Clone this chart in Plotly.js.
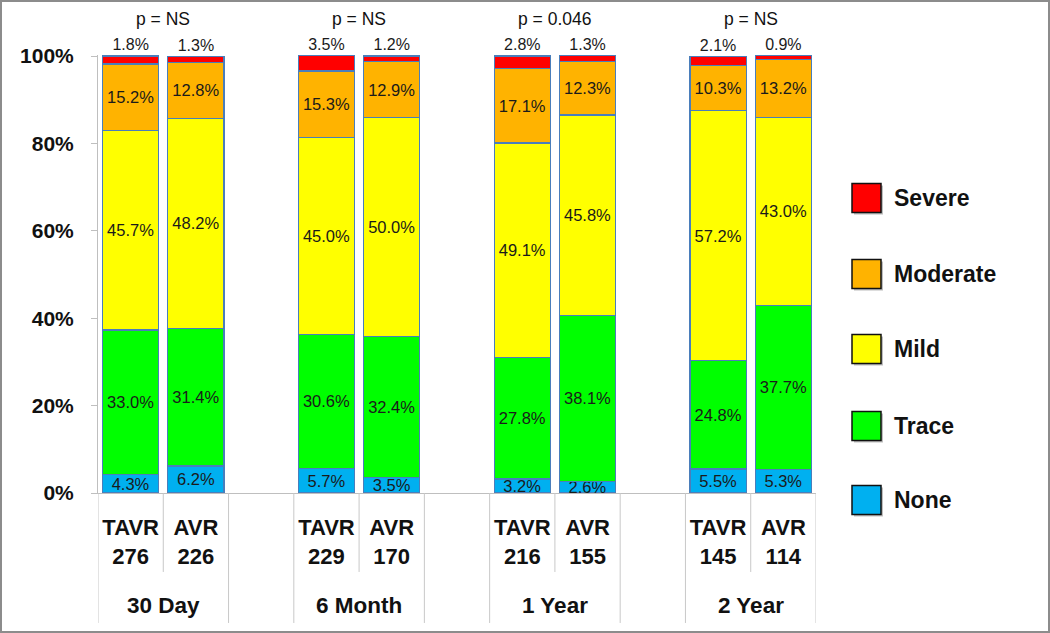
<!DOCTYPE html>
<html>
<head>
<meta charset="utf-8">
<script src="https://cdn.plot.ly/plotly-3.0.1.min.js"></script>
<style>
html,body{margin:0;padding:0;background:#fff;}
#chart{width:1050px;height:633px;}
</style>
</head>
<body>
<div id="chart"></div>
<script>
// ---- data ----
const arms = ['TAVR', 'AVR', 'TAVR', 'AVR', 'TAVR', 'AVR', 'TAVR', 'AVR'];
const counts = [276, 226, 229, 170, 216, 155, 145, 114];
const periods = ['30 Day', '6 Month', '1 Year', '2 Year'];
const pValues = ['p = NS', 'p = NS', 'p = 0.046', 'p = NS'];

const seriesNames = ['None', 'Trace', 'Mild', 'Moderate', 'Severe'];
const seriesColors = ['#00b0f0', '#00ff00', '#ffff00', '#ffb300', '#ff0000'];
const none = [4.3, 6.2, 5.7, 3.5, 3.2, 2.6, 5.5, 5.3];
const trace = [33.0, 31.4, 30.6, 32.4, 27.8, 38.1, 24.8, 37.7];
const mild = [45.7, 48.2, 45.0, 50.0, 49.1, 45.8, 57.2, 43.0];
const moderate = [15.2, 12.8, 15.3, 12.9, 17.1, 12.3, 10.3, 13.2];
const severe = [1.8, 1.3, 3.5, 1.2, 2.8, 1.3, 2.1, 0.9];
const seriesValues = [none, trace, mild, moderate, severe];
const yTicks = [0, 20, 40, 60, 80, 100];

// ---- layout helpers ----
const FONT = 'Arial, "Liberation Sans", sans-serif';
const YMAX = 100.25;
const L = 98, R = 816, B = 493;
const T = 56 - (YMAX - 100) * (493 - 56) / 100;   // keep 100% at y=56
const PW = R - L, PH = B - T;
const px = x => (x - L) / PW;
const py = y => (B - y) / PH;

// x position: each period has TAVR, AVR, then an empty slot
const xPos = arms.map((a, i) => Math.floor(i / 2) * 3 + (i % 2));
const tickText = arms.map((a, i) => a + '<br>' + counts[i]);

const traces = seriesValues.map((vals, k) => {
  const isTop = k === seriesValues.length - 1;
  return {
    type: 'bar',
    name: seriesNames[k],
    x: xPos,
    y: vals,
    width: 0.86,
    marker: {color: seriesColors[k], line: {color: '#4a7ebb', width: 1.2}},
    text: vals.map(v => v.toFixed(1) + '%'),
    textposition: isTop ? 'outside' : 'inside',
    insidetextanchor: 'middle',
    textangle: 0,
    constraintext: 'none',
    cliponaxis: false,
    textfont: {family: FONT, size: isTop ? 16 : 16.5, color: '#1a1a1a'},
    hoverinfo: 'skip',
    showlegend: false
  };
});

const shapes = [];
const annotations = [];

// frame around the whole picture
shapes.push({type: 'rect', xref: 'paper', yref: 'paper',
  x0: px(1), x1: px(1049), y0: py(632), y1: py(1),
  line: {color: '#8c8c8c', width: 2}, fillcolor: 'rgba(0,0,0,0)'});

// category dividers (multi-level axis)
const nSlots = periods.length * 3 - 1;
for (let s = 0; s <= nSlots; s++) {
  const x = s - 0.5;
  const inGroup = (s % 3) === 1; // between TAVR and AVR
  shapes.push({type: 'line', xref: 'x', yref: 'paper',
    x0: x, x1: x, y0: 0, y1: py(inGroup ? 572 : 623),
    line: {color: '#c8c8c8', width: 1}});
}

// period labels and p values
periods.forEach((p, g) => {
  annotations.push({xref: 'x', yref: 'paper', x: g * 3 + 0.5, y: py(606),
    text: p, showarrow: false, xanchor: 'center', yanchor: 'middle',
    font: {family: FONT, size: 22.5, weight: 'bold', color: '#111'}});
  annotations.push({xref: 'x', yref: 'paper', x: g * 3 + 0.5, y: py(19),
    text: pValues[g], showarrow: false, xanchor: 'center', yanchor: 'middle',
    font: {family: FONT, size: 17.5, color: '#111'}});
});

// legend (Severe on top)
const legendY = [500, 426, 349, 274, 198];
seriesNames.forEach((n, k) => {
  const c = legendY[k];
  shapes.push({type: 'rect', xref: 'paper', yref: 'paper',
    x0: px(854), x1: px(883), y0: py(c + 14.5 + 2), y1: py(c - 14.5 + 2),
    line: {width: 0}, fillcolor: 'rgba(0,0,0,0.25)'});
  shapes.push({type: 'rect', xref: 'paper', yref: 'paper',
    x0: px(852), x1: px(881), y0: py(c + 14.5), y1: py(c - 14.5),
    line: {color: '#111', width: 1.5}, fillcolor: seriesColors[k]});
  annotations.push({xref: 'paper', yref: 'paper', x: px(892), y: py(c),
    text: n, showarrow: false, xanchor: 'left', yanchor: 'middle',
    font: {family: FONT, size: 23, weight: 'bold', color: '#111'}});
});

const layout = {
  width: 1050, height: 633,
  margin: {l: L, r: 1050 - R, t: T, b: 633 - B, pad: 0},
  paper_bgcolor: '#ffffff', plot_bgcolor: '#ffffff',
  barmode: 'stack',
  showlegend: false,
  xaxis: {
    range: [-0.5, nSlots - 0.5],
    tickvals: xPos, ticktext: tickText,
    tickfont: {family: FONT, size: 22, weight: 'bold', color: '#111'},
    ticks: '', showline: true, linecolor: '#bfbfbf', linewidth: 1,
    showgrid: false, zeroline: false, fixedrange: true,
    ticklabelstandoff: 15
  },
  yaxis: {
    range: [0, YMAX],
    tickvals: yTicks, ticktext: yTicks.map(v => v + '%'),
    tickfont: {family: FONT, size: 21, weight: 'bold', color: '#111'},
    ticks: 'outside', ticklen: 6, tickcolor: '#bfbfbf',
    showline: true, linecolor: '#bfbfbf', linewidth: 1,
    showgrid: false, zeroline: false, fixedrange: true,
    ticklabelstandoff: 13
  },
  shapes: shapes,
  annotations: annotations
};

Plotly.newPlot('chart', traces, layout, {displayModeBar: false, staticPlot: true});
</script>
</body>
</html>
